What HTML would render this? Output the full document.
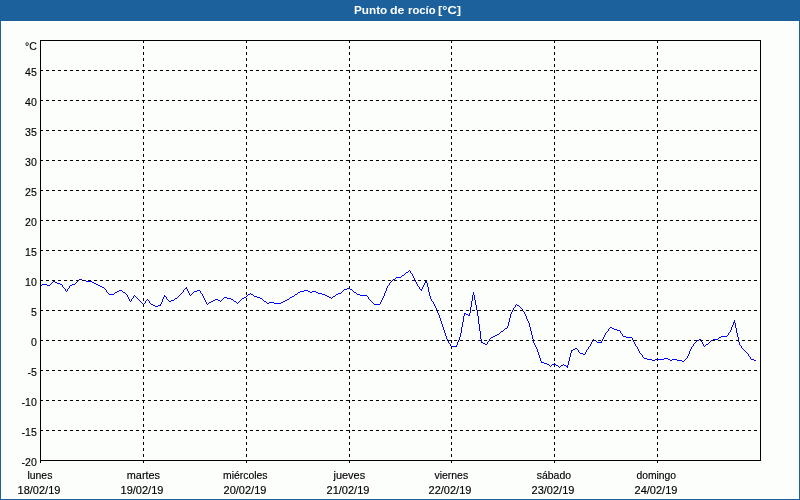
<!DOCTYPE html>
<html lang="es">
<head>
<meta charset="utf-8">
<title>Punto de rocío [°C]</title>
<style>
html,body{margin:0;padding:0;}
body{width:800px;height:500px;overflow:hidden;background:#fcfefc;position:relative;
 font-family:"Liberation Sans","DejaVu Sans",sans-serif;font-size:11px;color:#000;}
#frame{position:absolute;left:0;top:0;width:798px;height:478px;border:1px solid #1c619b;border-top:21px solid #1c619b;}
#title{position:absolute;left:0;top:0;width:800px;height:21px;line-height:21px;text-align:left;
 color:#fff;font-weight:bold;font-size:11px;}
#title span{position:absolute;top:0;height:21px;line-height:21px;white-space:nowrap;transform-origin:0 50%;}
svg{position:absolute;left:0;top:0;}
.yl,.xl{-webkit-text-stroke:0.15px #000;}
.yl{position:absolute;left:0;width:36.8px;transform-origin:100% 50%;transform:scaleX(0.96);text-align:right;height:14px;line-height:14px;white-space:nowrap;}
.xl{position:absolute;width:120px;text-align:center;height:14px;line-height:14px;white-space:nowrap;}
</style>
</head>
<body>
<div id="frame"></div>
<div id="title"><span style="left:353.55px;transform:scaleX(1.065)">Punto</span> <span style="left:390.4px;transform:scaleX(1.122)">de</span> <span style="left:407.5px;transform:scaleX(1.027)">rocío</span> <span style="left:438.45px;transform:scaleX(1.17)">[°C]</span></div>
<svg width="800" height="500" viewBox="0 0 800 500" shape-rendering="crispEdges">
<path fill="#0000ff" stroke="none" d="M406 272h2v1h-2zM402 275h2v1h-2zM396 277h5v1h-5zM79 279h3v1h-3zM393 279h2v1h-2zM82 280h4v1h-4zM53 281h2v1h-2zM86 281h6v1h-6zM425 281h2v1h-2zM55 282h2v1h-2zM92 282h2v1h-2zM425 282h2v1h-2zM57 283h3v1h-3zM94 283h2v1h-2zM42 284h5v1h-5zM60 284h2v1h-2zM72 284h3v1h-3zM96 284h2v1h-2zM47 285h3v1h-3zM70 285h2v1h-2zM98 285h2v1h-2zM100 286h2v1h-2zM102 287h2v1h-2zM185 288h2v1h-2zM347 288h3v1h-3zM344 289h3v1h-3zM350 289h2v1h-2zM420 289h2v1h-2zM119 290h3v1h-3zM197 290h3v1h-3zM304 290h4v1h-4zM117 291h2v1h-2zM194 291h3v1h-3zM300 291h4v1h-4zM308 291h2v1h-2zM312 291h4v1h-4zM115 292h2v1h-2zM123 292h2v1h-2zM298 292h2v1h-2zM310 292h2v1h-2zM316 292h2v1h-2zM354 292h2v1h-2zM318 293h4v1h-4zM338 293h3v1h-3zM109 294h5v1h-5zM248 294h2v1h-2zM251 294h2v1h-2zM295 294h2v1h-2zM322 294h3v1h-3zM336 294h2v1h-2zM357 294h3v1h-3zM325 295h2v1h-2zM360 295h7v1h-7zM164 296h2v1h-2zM254 296h3v1h-3zM292 296h2v1h-2zM327 296h2v1h-2zM333 296h2v1h-2zM224 297h3v1h-3zM244 297h2v1h-2zM257 297h3v1h-3zM290 297h2v1h-2zM329 297h2v1h-2zM175 298h2v1h-2zM227 298h4v1h-4zM242 298h2v1h-2zM260 298h2v1h-2zM215 299h3v1h-3zM231 299h2v1h-2zM287 299h2v1h-2zM171 300h3v1h-3zM213 300h2v1h-2zM218 300h2v1h-2zM285 300h2v1h-2zM169 301h2v1h-2zM211 301h2v1h-2zM234 301h2v1h-2zM264 301h2v1h-2zM283 301h2v1h-2zM209 302h2v1h-2zM269 302h5v1h-5zM281 302h2v1h-2zM267 303h2v1h-2zM274 303h7v1h-7zM151 304h2v1h-2zM374 304h6v1h-6zM153 305h2v1h-2zM158 305h3v1h-3zM517 305h2v1h-2zM155 306h3v1h-3zM464 313h2v1h-2zM466 314h2v1h-2zM468 315h2v1h-2zM733 322h2v1h-2zM610 327h2v1h-2zM505 328h2v1h-2zM612 328h2v1h-2zM614 329h3v1h-3zM617 330h3v1h-3zM501 331h2v1h-2zM497 334h2v1h-2zM495 335h2v1h-2zM493 336h2v1h-2zM623 336h3v1h-3zM721 336h6v1h-6zM491 337h2v1h-2zM626 337h6v1h-6zM719 337h2v1h-2zM699 339h2v1h-2zM713 339h5v1h-5zM594 340h2v1h-2zM697 340h2v1h-2zM711 340h2v1h-2zM481 342h2v1h-2zM597 342h5v1h-5zM483 343h2v1h-2zM485 344h2v1h-2zM706 344h2v1h-2zM451 346h6v1h-6zM575 348h2v1h-2zM573 349h2v1h-2zM571 350h2v1h-2zM580 353h3v1h-3zM583 354h2v1h-2zM644 358h3v1h-3zM664 358h4v1h-4zM647 359h5v1h-5zM655 359h9v1h-9zM668 359h2v1h-2zM672 359h5v1h-5zM751 359h3v1h-3zM652 360h3v1h-3zM670 360h2v1h-2zM677 360h5v1h-5zM754 360h2v1h-2zM682 361h2v1h-2zM541 362h3v1h-3zM544 363h3v1h-3zM547 364h2v1h-2zM552 364h2v1h-2zM556 365h2v1h-2zM561 365h2v1h-2zM564 365h2v1h-2zM566 366h2v1h-2zM41 285h1v1h-1zM50 284h1v1h-1zM51 283h1v1h-1zM52 282h1v1h-1zM62 285h1v2h-1zM63 287h1v1h-1zM64 288h1v1h-1zM65 289h1v2h-1zM66 291h1v1h-1zM67 289h1v2h-1zM68 288h1v1h-1zM69 286h1v2h-1zM75 283h1v1h-1zM76 282h1v1h-1zM77 281h1v1h-1zM78 280h1v1h-1zM104 288h1v1h-1zM105 289h1v1h-1zM106 290h1v2h-1zM107 292h1v1h-1zM108 293h1v1h-1zM114 293h1v1h-1zM122 291h1v1h-1zM125 293h1v1h-1zM126 294h1v1h-1zM127 295h1v2h-1zM128 297h1v2h-1zM129 299h1v2h-1zM130 301h1v1h-1zM131 299h1v2h-1zM132 298h1v1h-1zM133 296h1v2h-1zM134 295h1v1h-1zM135 296h1v1h-1zM136 297h1v1h-1zM137 298h1v1h-1zM138 299h1v1h-1zM139 300h1v1h-1zM140 301h1v1h-1zM141 302h1v1h-1zM142 303h1v1h-1zM143 304h1v1h-1zM144 303h1v1h-1zM145 301h1v2h-1zM146 300h1v1h-1zM147 299h1v1h-1zM148 300h1v1h-1zM149 301h1v2h-1zM150 303h1v1h-1zM160 304h1v1h-1zM161 302h1v2h-1zM162 299h1v3h-1zM163 297h1v2h-1zM164 295h1v1h-1zM166 297h1v2h-1zM167 299h1v1h-1zM168 300h1v1h-1zM174 299h1v1h-1zM177 297h1v1h-1zM178 296h1v1h-1zM179 295h1v1h-1zM180 294h1v1h-1zM181 293h1v1h-1zM182 292h1v1h-1zM183 290h1v2h-1zM184 289h1v1h-1zM186 287h1v1h-1zM187 289h1v2h-1zM188 291h1v2h-1zM189 293h1v2h-1zM190 295h1v1h-1zM191 294h1v1h-1zM192 293h1v1h-1zM193 292h1v1h-1zM200 291h1v2h-1zM201 293h1v1h-1zM202 294h1v2h-1zM203 296h1v2h-1zM204 298h1v2h-1zM205 300h1v2h-1zM206 302h1v2h-1zM207 304h1v1h-1zM208 303h1v1h-1zM220 301h1v1h-1zM221 300h1v1h-1zM222 299h1v1h-1zM223 298h1v1h-1zM233 300h1v1h-1zM236 302h1v1h-1zM237 303h1v1h-1zM238 302h1v1h-1zM239 301h1v1h-1zM240 300h1v1h-1zM241 299h1v1h-1zM246 296h1v1h-1zM247 295h1v1h-1zM250 293h1v1h-1zM253 295h1v1h-1zM262 299h1v1h-1zM263 300h1v1h-1zM266 302h1v1h-1zM289 298h1v1h-1zM294 295h1v1h-1zM297 293h1v1h-1zM331 298h1v1h-1zM332 297h1v1h-1zM335 295h1v1h-1zM341 292h1v1h-1zM342 291h1v1h-1zM343 290h1v1h-1zM352 290h1v1h-1zM353 291h1v1h-1zM356 293h1v1h-1zM367 296h1v1h-1zM368 297h1v2h-1zM369 299h1v1h-1zM370 300h1v1h-1zM371 301h1v1h-1zM372 302h1v1h-1zM373 303h1v1h-1zM380 302h1v2h-1zM381 300h1v2h-1zM382 298h1v2h-1zM383 296h1v2h-1zM384 293h1v3h-1zM385 291h1v2h-1zM386 288h1v3h-1zM387 286h1v2h-1zM388 285h1v1h-1zM389 283h1v2h-1zM390 282h1v1h-1zM391 281h1v1h-1zM392 280h1v1h-1zM395 278h1v1h-1zM401 276h1v1h-1zM404 274h1v1h-1zM405 273h1v1h-1zM408 271h1v1h-1zM409 270h1v1h-1zM410 271h1v2h-1zM411 273h1v1h-1zM412 274h1v2h-1zM413 276h1v2h-1zM414 278h1v2h-1zM415 280h1v2h-1zM416 282h1v2h-1zM417 284h1v2h-1zM418 286h1v1h-1zM419 287h1v2h-1zM421 290h1v1h-1zM422 287h1v2h-1zM423 285h1v2h-1zM424 283h1v2h-1zM426 280h1v1h-1zM427 283h1v4h-1zM428 287h1v5h-1zM429 292h1v4h-1zM430 296h1v3h-1zM431 299h1v2h-1zM432 301h1v1h-1zM433 302h1v2h-1zM434 304h1v2h-1zM435 306h1v2h-1zM436 308h1v3h-1zM437 311h1v2h-1zM438 313h1v2h-1zM439 315h1v3h-1zM440 318h1v3h-1zM441 321h1v3h-1zM442 324h1v3h-1zM443 327h1v3h-1zM444 330h1v3h-1zM445 333h1v3h-1zM446 336h1v3h-1zM447 339h1v2h-1zM448 341h1v2h-1zM449 343h1v1h-1zM450 344h1v2h-1zM456 345h1v1h-1zM457 342h1v3h-1zM458 340h1v2h-1zM459 337h1v3h-1zM460 333h1v4h-1zM461 327h1v6h-1zM462 322h1v5h-1zM463 316h1v6h-1zM464 314h1v2h-1zM469 313h1v2h-1zM470 307h1v6h-1zM471 301h1v6h-1zM472 295h1v6h-1zM473 292h1v3h-1zM474 295h1v5h-1zM475 300h1v5h-1zM476 305h1v5h-1zM477 310h1v6h-1zM478 316h1v8h-1zM479 324h1v7h-1zM480 331h1v8h-1zM481 339h1v3h-1zM487 342h1v2h-1zM488 341h1v1h-1zM489 339h1v2h-1zM490 338h1v1h-1zM499 333h1v1h-1zM500 332h1v1h-1zM503 330h1v1h-1zM504 329h1v1h-1zM507 326h1v2h-1zM508 322h1v4h-1zM509 318h1v4h-1zM510 314h1v4h-1zM511 312h1v2h-1zM512 310h1v2h-1zM513 308h1v2h-1zM514 307h1v1h-1zM515 305h1v2h-1zM516 304h1v1h-1zM519 306h1v1h-1zM520 307h1v1h-1zM521 308h1v1h-1zM522 309h1v2h-1zM523 311h1v1h-1zM524 312h1v2h-1zM525 314h1v2h-1zM526 316h1v3h-1zM527 319h1v2h-1zM528 321h1v2h-1zM529 323h1v4h-1zM530 327h1v4h-1zM531 331h1v4h-1zM532 335h1v4h-1zM533 339h1v4h-1zM534 343h1v2h-1zM535 345h1v2h-1zM536 347h1v2h-1zM537 349h1v3h-1zM538 352h1v3h-1zM539 355h1v3h-1zM540 358h1v3h-1zM541 361h1v1h-1zM549 365h1v1h-1zM550 366h1v1h-1zM551 365h1v1h-1zM554 363h1v1h-1zM555 364h1v1h-1zM558 366h1v1h-1zM559 367h1v1h-1zM560 366h1v1h-1zM563 364h1v1h-1zM567 365h1v1h-1zM567 367h1v1h-1zM568 361h1v4h-1zM569 357h1v4h-1zM570 353h1v4h-1zM571 351h1v2h-1zM577 349h1v1h-1zM578 350h1v2h-1zM579 352h1v1h-1zM585 352h1v2h-1zM586 350h1v2h-1zM587 349h1v1h-1zM588 347h1v2h-1zM589 346h1v1h-1zM590 344h1v2h-1zM591 342h1v2h-1zM592 340h1v2h-1zM593 339h1v1h-1zM596 341h1v1h-1zM601 341h1v1h-1zM602 339h1v2h-1zM603 337h1v2h-1zM604 335h1v2h-1zM605 333h1v2h-1zM606 332h1v1h-1zM607 331h1v1h-1zM608 329h1v2h-1zM609 328h1v1h-1zM620 331h1v2h-1zM621 333h1v1h-1zM622 334h1v2h-1zM632 338h1v2h-1zM633 340h1v2h-1zM634 342h1v2h-1zM635 344h1v2h-1zM636 346h1v1h-1zM637 347h1v2h-1zM638 349h1v2h-1zM639 351h1v2h-1zM640 353h1v1h-1zM641 354h1v1h-1zM642 355h1v2h-1zM643 357h1v1h-1zM684 360h1v1h-1zM685 359h1v1h-1zM686 358h1v1h-1zM687 356h1v2h-1zM688 354h1v2h-1zM689 351h1v3h-1zM690 349h1v2h-1zM691 347h1v2h-1zM692 346h1v1h-1zM693 344h1v2h-1zM694 343h1v1h-1zM695 342h1v1h-1zM696 341h1v1h-1zM701 340h1v2h-1zM702 342h1v2h-1zM703 344h1v2h-1zM704 346h1v1h-1zM705 345h1v1h-1zM708 343h1v1h-1zM709 342h1v1h-1zM710 341h1v1h-1zM718 338h1v1h-1zM727 335h1v1h-1zM728 333h1v2h-1zM729 332h1v1h-1zM730 330h1v2h-1zM731 327h1v3h-1zM732 325h1v2h-1zM733 323h1v2h-1zM734 320h1v2h-1zM735 323h1v5h-1zM736 328h1v5h-1zM737 333h1v4h-1zM738 337h1v5h-1zM739 342h1v3h-1zM740 345h1v1h-1zM741 346h1v2h-1zM742 348h1v1h-1zM743 349h1v1h-1zM744 350h1v1h-1zM745 351h1v1h-1zM746 352h1v1h-1zM747 353h1v1h-1zM748 354h1v2h-1zM749 356h1v1h-1zM750 357h1v2h-1z"/>
<g stroke="#000" stroke-width="1" stroke-dasharray="3 3" fill="none">
<line x1="40" y1="70.5" x2="760" y2="70.5"/>
<line x1="40" y1="100.5" x2="760" y2="100.5"/>
<line x1="40" y1="130.5" x2="760" y2="130.5"/>
<line x1="40" y1="160.5" x2="760" y2="160.5"/>
<line x1="40" y1="190.5" x2="760" y2="190.5"/>
<line x1="40" y1="220.5" x2="760" y2="220.5"/>
<line x1="40" y1="250.5" x2="760" y2="250.5"/>
<line x1="40" y1="280.5" x2="760" y2="280.5"/>
<line x1="40" y1="310.5" x2="760" y2="310.5"/>
<line x1="40" y1="340.5" x2="760" y2="340.5"/>
<line x1="40" y1="370.5" x2="760" y2="370.5"/>
<line x1="40" y1="400.5" x2="760" y2="400.5"/>
<line x1="40" y1="430.5" x2="760" y2="430.5"/>
<line x1="143.5" y1="40" x2="143.5" y2="460"/>
<line x1="246.5" y1="40" x2="246.5" y2="460"/>
<line x1="349.5" y1="40" x2="349.5" y2="460"/>
<line x1="451.5" y1="40" x2="451.5" y2="460"/>
<line x1="554.5" y1="40" x2="554.5" y2="460"/>
<line x1="657.5" y1="40" x2="657.5" y2="460"/>
</g>
<g stroke="#000" stroke-width="1" fill="none">
<rect x="40.5" y="40.5" width="720" height="420"/>
<line x1="40.5" y1="460" x2="40.5" y2="463"/>
<line x1="143.5" y1="460" x2="143.5" y2="463"/>
<line x1="246.5" y1="460" x2="246.5" y2="463"/>
<line x1="349.5" y1="460" x2="349.5" y2="463"/>
<line x1="451.5" y1="460" x2="451.5" y2="463"/>
<line x1="554.5" y1="460" x2="554.5" y2="463"/>
<line x1="657.5" y1="460" x2="657.5" y2="463"/>
</g>
</svg>
<div class="yl" style="top:39px">°C</div>
<div class="yl" style="top:65px">45</div>
<div class="yl" style="top:95px">40</div>
<div class="yl" style="top:125px">35</div>
<div class="yl" style="top:155px">30</div>
<div class="yl" style="top:185px">25</div>
<div class="yl" style="top:215px">20</div>
<div class="yl" style="top:245px">15</div>
<div class="yl" style="top:275px">10</div>
<div class="yl" style="top:305px">5</div>
<div class="yl" style="top:335px">0</div>
<div class="yl" style="top:365px">-5</div>
<div class="yl" style="top:395px">-10</div>
<div class="yl" style="top:425px">-15</div>
<div class="yl" style="top:455px">-20</div>
<div class="xl" style="left:-20px;top:468px;transform:translateX(-0.10px) scaleX(0.946)">lunes</div>
<div class="xl" style="left:-21px;top:483px">18/02/19</div>
<div class="xl" style="left:83px;top:468px;transform:translateX(0.40px) scaleX(0.988)">martes</div>
<div class="xl" style="left:82px;top:483px">19/02/19</div>
<div class="xl" style="left:186px;top:468px;transform:translateX(-0.70px) scaleX(0.943)">miércoles</div>
<div class="xl" style="left:185px;top:483px">20/02/19</div>
<div class="xl" style="left:289px;top:468px;transform:translateX(0.30px) scaleX(0.994)">jueves</div>
<div class="xl" style="left:288px;top:483px">21/02/19</div>
<div class="xl" style="left:391px;top:468px;transform:translateX(0.30px) scaleX(0.950)">viernes</div>
<div class="xl" style="left:390px;top:483px">22/02/19</div>
<div class="xl" style="left:494px;top:468px;transform:translateX(-0.10px) scaleX(0.950)">sábado</div>
<div class="xl" style="left:493px;top:483px">23/02/19</div>
<div class="xl" style="left:597px;top:468px;transform:translateX(-0.70px) scaleX(0.938)">domingo</div>
<div class="xl" style="left:596px;top:483px">24/02/19</div>
</body>
</html>
